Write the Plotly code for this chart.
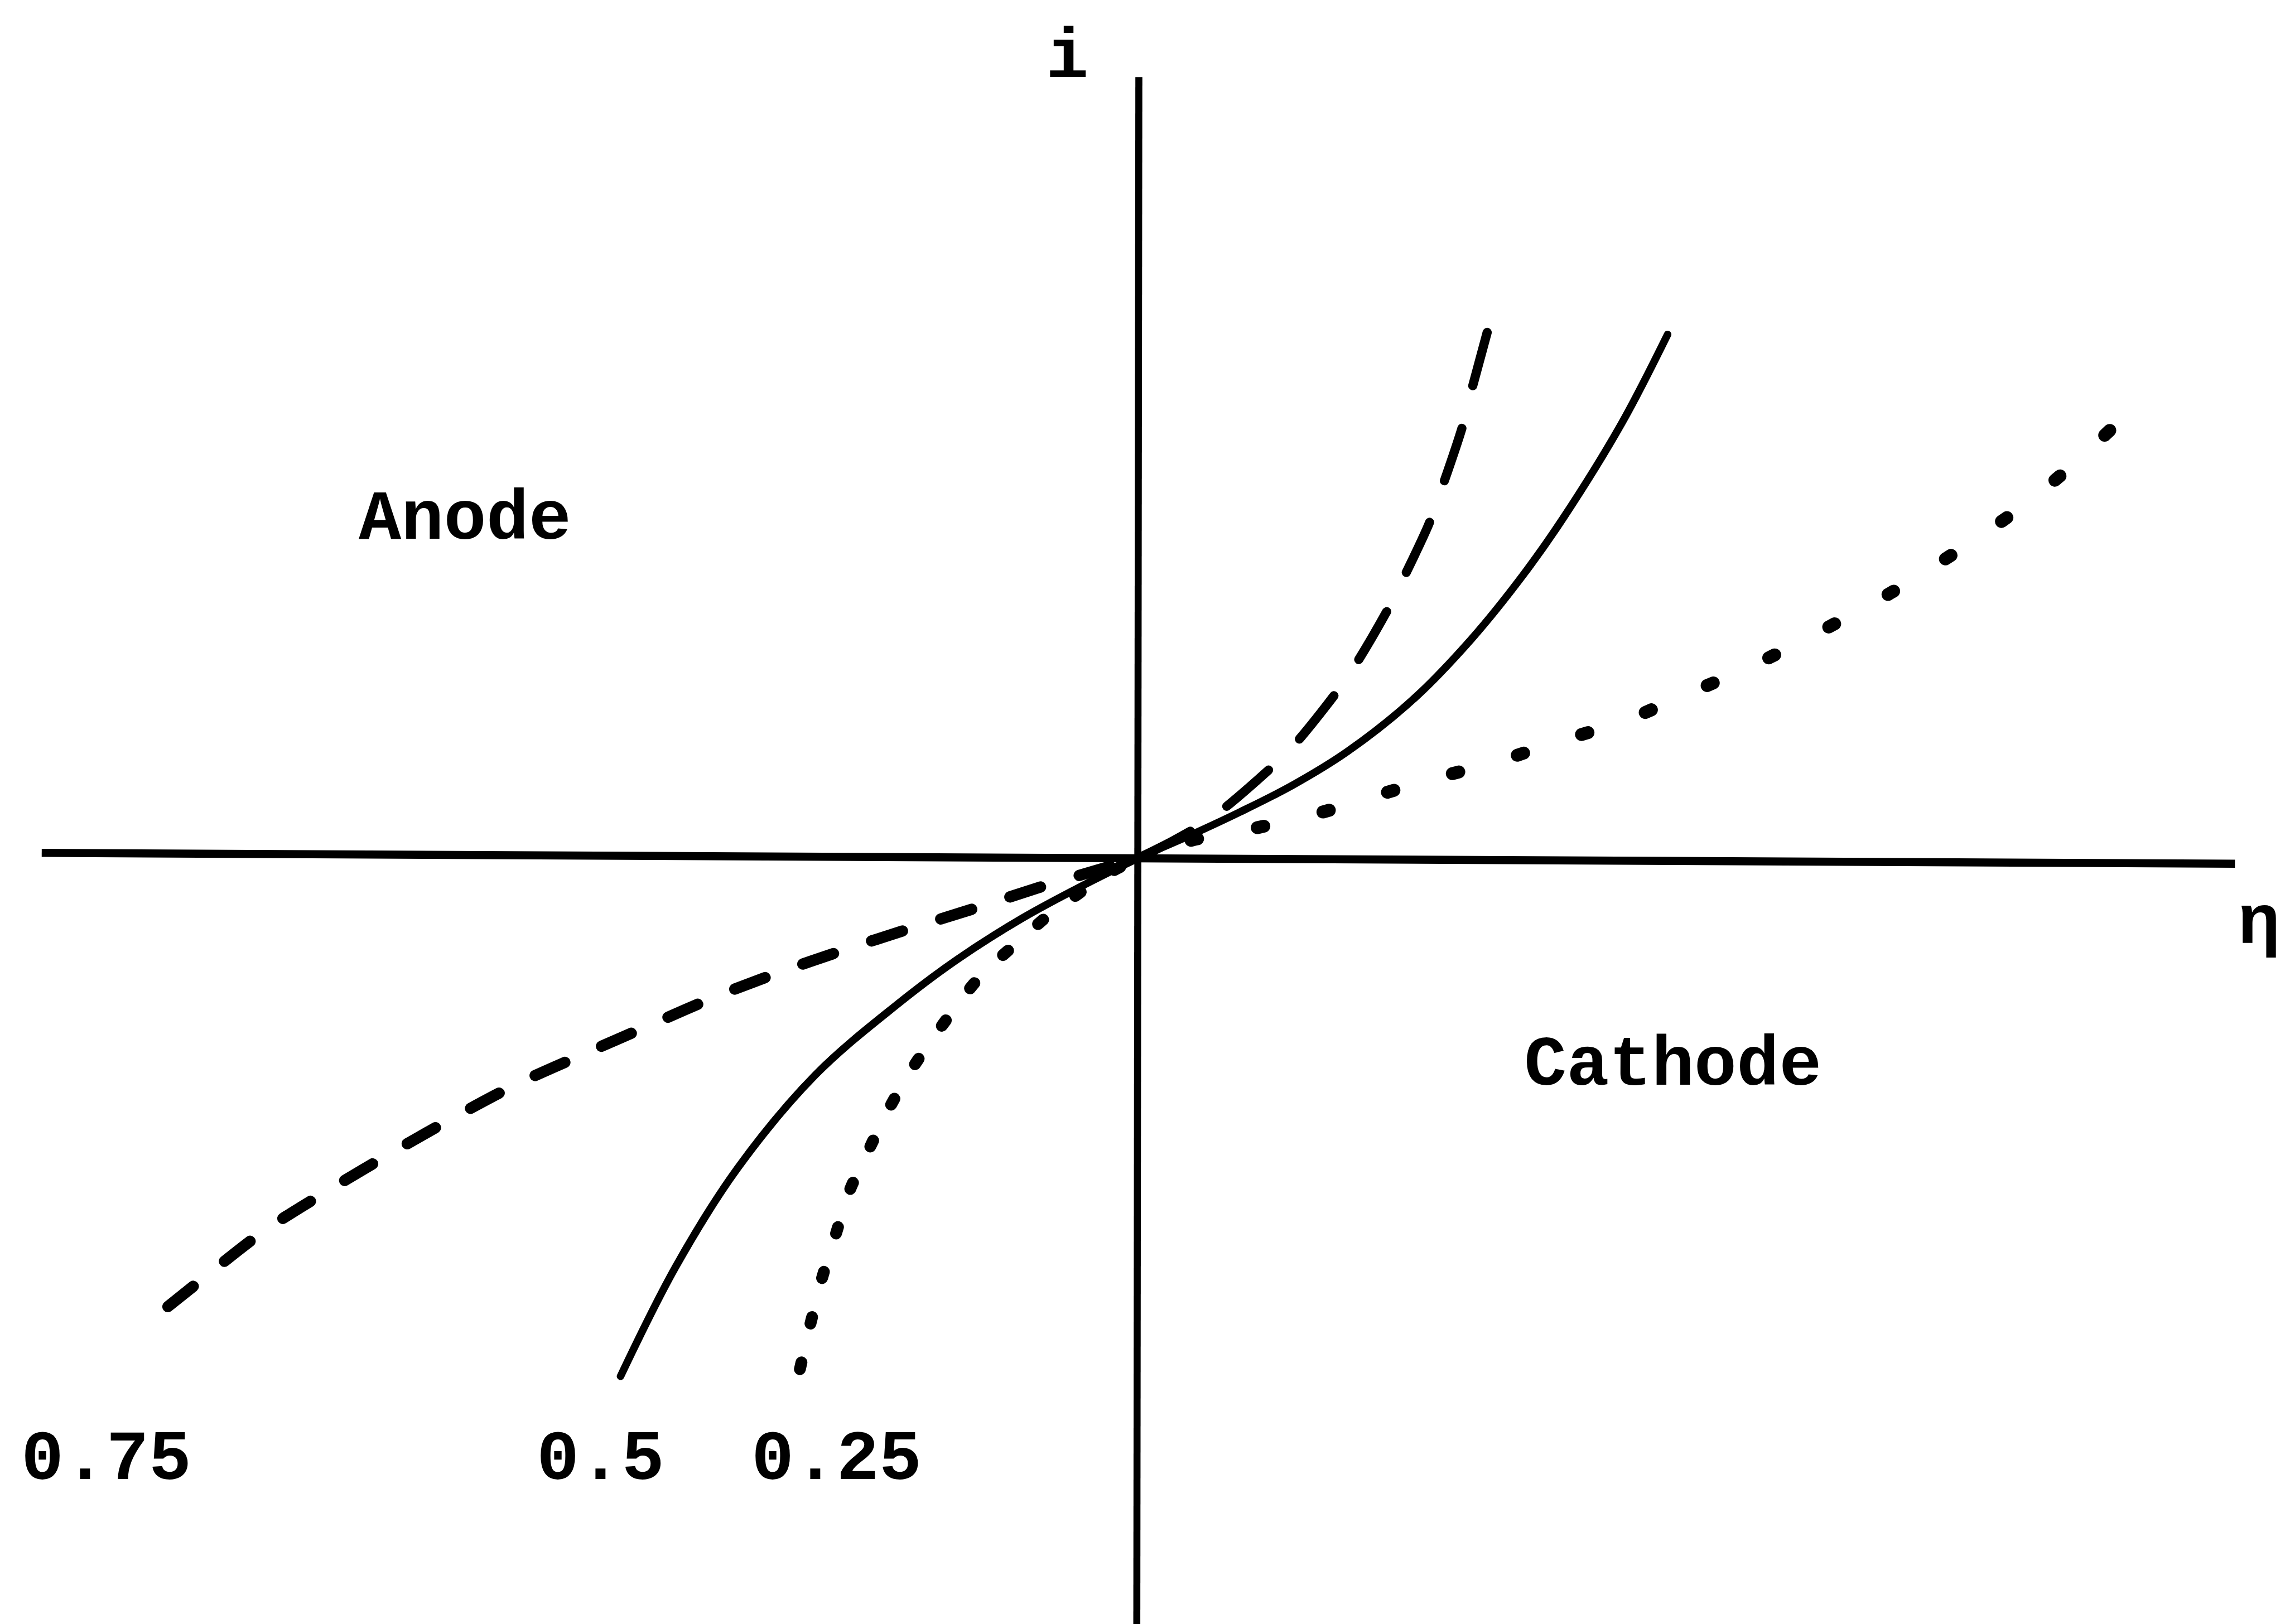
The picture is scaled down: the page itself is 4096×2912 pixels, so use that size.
import plotly.graph_objects as go

# Butler-Volmer current-overpotential curves for three transfer coefficients.
# Overpotential eta in units of RT/F, current i in units of the exchange current.

# transfer coefficients labelled under the curves
ALPHA_LABELS = ["0.75", "0.5", "0.25"]

# alpha = 0.5 (solid), one branch through the origin
ETA_050 = [-4.97, -4.44, -3.85, -3.10, -2.31, -1.75, -1.12, -0.55,
           0.0, 0.50, 0.97, 1.48, 2.00, 2.63, 3.19, 3.69, 4.07, 4.63, 5.07]
I_050 = [-12.43, -9.80, -7.45, -5.20, -3.50, -2.45, -1.45, -0.68,
         0.0, 0.55, 1.10, 1.75, 2.55, 3.80, 5.25, 6.80, 8.15, 10.42, 12.55]

# alpha = 0.75 (dashed), negative branch from its far end in to the origin
ETA_075_NEG = [-9.31, -9.04, -8.39, -7.79, -7.15, -6.55, -5.96, -5.30, -4.66, -4.05, -3.44, -2.84,
               -2.20, -1.56, -0.97, -0.49, 0.0]
I_075_NEG = [-10.76, -10.22, -8.95, -8.00, -7.05, -6.20, -5.42, -4.68, -3.98, -3.32, -2.74, -2.22,
             -1.70, -1.20, -0.72, -0.36, 0.0]
# alpha = 0.75 (dashed), positive branch from its far end in to the origin
ETA_075_POS = [3.34, 3.19, 3.10, 2.91, 2.78, 2.55, 2.41, 2.09, 1.91, 1.47, 1.25, 0.71, 0.35, 0.0]
I_075_POS = [12.60, 11.21, 10.32, 8.90, 8.00, 6.77, 6.06, 4.68, 4.02, 2.65, 2.12, 0.98, 0.44, 0.0]

# alpha = 0.25 (dotted), negative branch
ETA_025_NEG = [-3.25, -3.15, -3.03, -2.91, -2.78, -2.62, -2.40, -2.16, -1.84, -1.53, -1.12, -0.84,
               -0.62, -0.30, 0.0]
I_025_NEG = [-12.26, -11.18, -10.01, -9.06, -8.02, -7.16, -6.03, -5.00, -3.86, -2.87, -1.93, -1.32,
             -0.93, -0.38, 0.0]
# alpha = 0.25 (dotted), positive branch
ETA_025_POS = [9.31, 8.89, 8.39, 7.84, 7.20, 6.58, 5.91, 5.26, 4.63, 4.02, 3.44, 2.81, 2.30, 1.75,
               1.09, 0.50, 0.0]
I_025_POS = [10.25, 9.28, 8.28, 7.34, 6.34, 5.49, 4.64, 3.93, 3.26, 2.79, 2.31, 1.89, 1.51, 1.09,
             0.70, 0.42, 0.0]

# ---------------------------------------------------------------- layout --
W, H = 4096, 2912
K = 0.966                       # drawing scale of the page
REF_W, REF_H = 4240, 3014       # design grid the positions below are given on

ETA_RANGE = [-10.92, 10.99]
I_RANGE = [-18.37, 20.57]

FONT = "Liberation Mono, Courier New, monospace"
FS_REF = 131
FS = round(FS_REF * K)


def px(v):
    return v * K


def paper(x, baseline):
    """Design-grid position of a text centre / baseline -> paper coords."""
    yc = baseline - 0.2666 * FS_REF
    return x / REF_W, 1 - yc / REF_H


fig = go.Figure()


def branch(eta, cur, width, dash, smoothing=0.9):
    fig.add_trace(go.Scatter(
        x=eta, y=cur, mode="lines", hoverinfo="skip", showlegend=False,
        line=dict(width=px(width), dash=dash, shape="spline", smoothing=smoothing, color="black"),
    ))


# solid alpha = 0.5
branch(ETA_050, I_050, 14, "solid", smoothing=1.0)
# dashed alpha = 0.75
branch(ETA_075_NEG, I_075_NEG, 21, f"{px(60):.0f}px,{px(75):.0f}px")
branch(ETA_075_POS, I_075_POS, 17, f"{px(102):.0f}px,{px(82):.0f}px")
# dotted alpha = 0.25
branch(ETA_025_NEG, I_025_NEG, 22, f"{px(12):.0f}px,{px(75):.0f}px")
branch(ETA_025_POS, I_025_POS, 24, f"{px(12):.0f}px,{px(113):.0f}px")

# coordinate axes, drawn as free lines through the origin
AXIS_ETA_X, AXIS_ETA_Y = [-10.52, 10.51], [0.12, -0.14]
AXIS_I_X, AXIS_I_Y = [0.0, -0.02], [18.72, -19.0]
shapes = [
    dict(type="line", xref="x", yref="y", x0=AXIS_ETA_X[0], y0=AXIS_ETA_Y[0],
         x1=AXIS_ETA_X[1], y1=AXIS_ETA_Y[1], line=dict(color="black", width=px(15))),
    dict(type="line", xref="x", yref="y", x0=AXIS_I_X[0], y0=AXIS_I_Y[0],
         x1=AXIS_I_X[1], y1=AXIS_I_Y[1], line=dict(color="black", width=px(13))),
]

# text: (string, x, baseline y, anchor) on the design grid
TEXTS = [
    ("i", 1980, 143, "center"),
    ("Anode", 863, 1000, "center"),
    ("Cathode", 3104, 2013, "center"),
    (ALPHA_LABELS[0], 197, 2745, "center"),
    (ALPHA_LABELS[1], 1114, 2745, "center"),
    (ALPHA_LABELS[2], 1552, 2745, "center"),
    ("\u03b7", 4150, 1750, "left"),
]
annotations = []
for text, x, base, anchor in TEXTS:
    xp, yp = paper(x, base)
    annotations.append(dict(
        text=text, x=xp, y=yp, xref="paper", yref="paper", showarrow=False,
        xanchor=anchor, yanchor="middle",
        font=dict(family=FONT, size=FS, color="black", weight="bold"),
    ))

fig.update_layout(
    width=W, height=H, autosize=False,
    margin=dict(l=0, r=0, t=0, b=0, pad=0),
    paper_bgcolor="white", plot_bgcolor="white",
    xaxis=dict(range=ETA_RANGE, visible=False, showgrid=False, zeroline=False, fixedrange=True),
    yaxis=dict(range=I_RANGE, visible=False, showgrid=False, zeroline=False, fixedrange=True),
    shapes=shapes, annotations=annotations,
)

ROUND_CAPS = """
document.body.style.margin = '0';
document.querySelectorAll('.scatterlayer path.js-line').forEach(function (p) {
  p.style.strokeLinecap = 'round';
  p.style.strokeLinejoin = 'round';
});
"""

fig.write_html("out.html", include_plotlyjs=True, post_script=ROUND_CAPS,
               config={"displayModeBar": False, "staticPlot": True})
